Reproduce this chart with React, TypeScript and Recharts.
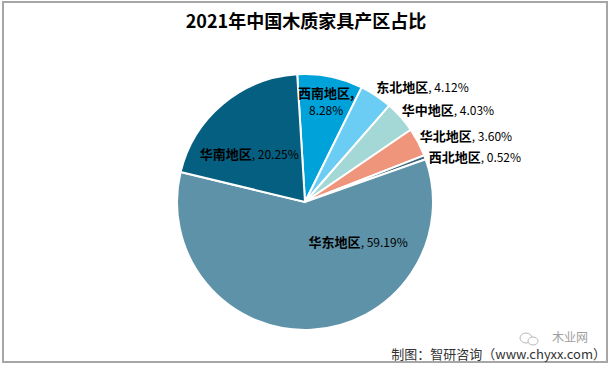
import React from "react";
import { PieChart, Pie, Cell } from "recharts";

// 2021年中国木质家具产区占比 (%)
const regions = ["西南地区", "东北地区", "华中地区", "华北地区", "西北地区", "华东地区", "华南地区"];
const shares = [8.28, 4.12, 4.03, 3.6, 0.52, 59.19, 20.25];
const colors = ["#00A2DA", "#6BCDF4", "#A3D8D6", "#EF957B", "#3B6479", "#5E92A8", "#055F81"];

const data = regions.map((name, i) => ({ name, value: shares[i] }));

// label placement per slice: radius (relative to outer edge) plus a nudge
const labelLayout = [
  { inside: true, r: -26, dx: 1, dy: -9, twoLines: true },
  { inside: false, r: 4, dx: -2, dy: -6 },
  { inside: false, r: 4, dx: -2, dy: -5 },
  { inside: false, r: 4, dx: -2, dy: -5 },
  { inside: false, r: 4, dx: 0, dy: 1 },
  { inside: true, r: -67, dx: 50, dy: -22 },
  { inside: true, r: -49, dx: -5, dy: 12 },
];

const RAD = Math.PI / 180;
const FONT = "'Noto Sans CJK SC', 'Noto Sans', sans-serif";

const renderLabel = (props: any) => {
  const { cx, cy, midAngle, outerRadius, index, name, value } = props;
  const l = labelLayout[index];
  const r = outerRadius + l.r;
  const x = cx + r * Math.cos(-midAngle * RAD) + l.dx;
  const y = cy + r * Math.sin(-midAngle * RAD) + l.dy;
  const pct = value.toFixed(2) + "%";
  if (l.twoLines) {
    return (
      <text x={x} y={y} textAnchor="middle" fontFamily={FONT} fill="#000">
        <tspan x={x} dy="0.35em" fontSize={13} fontWeight="bold">{name},</tspan>
        <tspan x={x} dy={17} fontSize={12}>{pct}</tspan>
      </text>
    );
  }
  return (
    <text
      x={x}
      y={y}
      dy="0.35em"
      textAnchor={l.inside ? "middle" : "start"}
      fontFamily={FONT}
      fill="#000"
    >
      <tspan fontSize={13} fontWeight="bold">{name}</tspan>
      <tspan fontSize={12}>, {pct}</tspan>
    </text>
  );
};

const App: React.FC = () => {
  return (
    <div style={{ position: "absolute", left: 0, top: 0, width: 612, height: 368, background: "#fff" }}>
      <svg width={612} height={368} style={{ position: "absolute", left: 0, top: 0 }}>
        <rect x={3} y={2} width={604} height={360} fill="#fff" stroke="#A6A6A6" strokeWidth={2} />
        <text x={306} y={22} dy="0.35em" textAnchor="middle" fontFamily={FONT} fontSize={18} fontWeight="bold" fill="#000">
          2021年中国木质家具产区占比
        </text>
        {/* watermark */}
        <ellipse cx={526} cy={338} rx={6} ry={5} fill="none" stroke="#B8B8B8" strokeWidth={1} />
        <ellipse cx={533} cy={341} rx={5} ry={4} fill="#fff" stroke="#B8B8B8" strokeWidth={1} />
        <text x={570} y={338} dy="0.35em" textAnchor="middle" fontFamily={FONT} fontSize={12} fill="#A0A0A0">
          木业网
        </text>
        <text x={606} y={354} dy="0.35em" textAnchor="end" fontFamily={FONT} fontSize={13} fill="#333">
          制图：智研咨询（www.chyxx.com）
        </text>
      </svg>
      <div style={{ position: "absolute", left: 0, top: 0 }}>
        <PieChart width={612} height={368} margin={{ top: 0, right: 0, bottom: 0, left: 0 }}>
          <Pie
            data={data}
            dataKey="value"
            nameKey="name"
            cx={305}
            cy={202}
            outerRadius={128}
            startAngle={93.5}
            endAngle={-266.5}
            stroke="#fff"
            strokeWidth={2}
            label={renderLabel}
            labelLine={false}
            isAnimationActive={false}
          >
            {data.map((d, i) => (
              <Cell key={d.name} fill={colors[i]} />
            ))}
          </Pie>
        </PieChart>
      </div>
    </div>
  );
};

export default App;
